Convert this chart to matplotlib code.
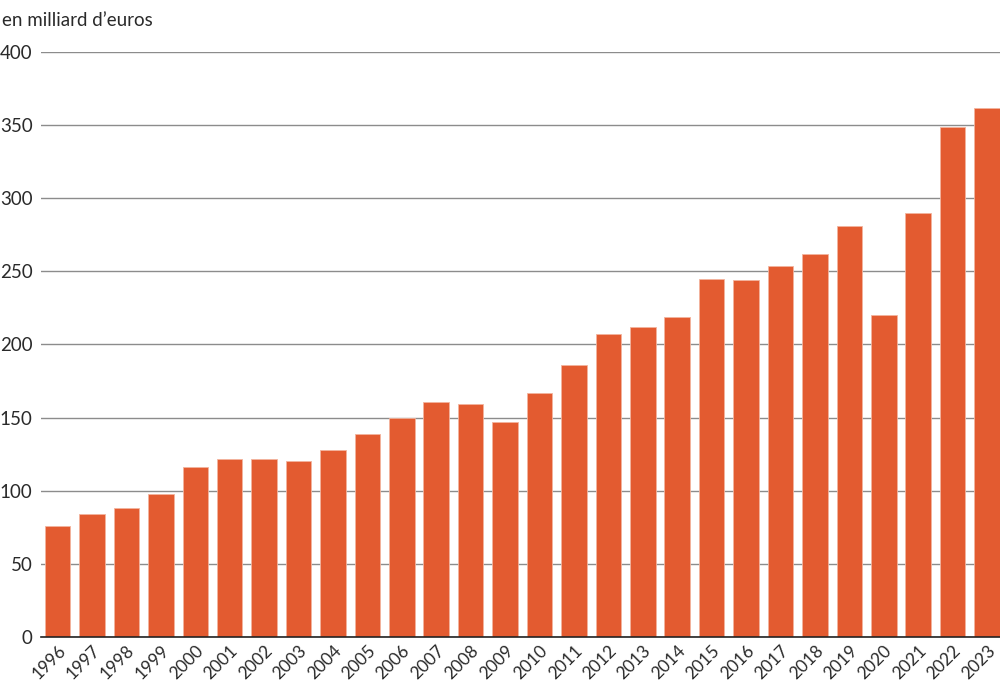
import matplotlib.pyplot as plt

# data (billions of euros)
years = [str(y) for y in range(1996, 2024)]
values = [76, 84, 88, 98, 116, 122, 122, 120, 128, 139, 150, 161, 159, 147,
          167, 186, 207, 212, 219, 245, 244, 254, 262, 281, 220, 290, 349, 362]
yticks = [0, 50, 100, 150, 200, 250, 300, 350, 400]

plt.rcParams['font.family'] = ['Lato', 'DejaVu Sans']

fig = plt.figure(figsize=(10, 6.85), dpi=100)
ax = fig.add_axes([0.041, 0.0701, 0.959, 0.854])

x = range(len(years))
ax.bar(x, values, width=0.74, color='#e35b30', edgecolor='#f3b49d',
       linewidth=0.6, zorder=3)

ax.set_ylim(0, 400)
ax.set_xlim(-0.48, len(years) - 0.625)
ax.set_yticks(yticks)
ax.set_yticklabels([str(t) for t in yticks], fontsize=13.5, color='#2a2a2a')
ax.yaxis.grid(True, color='#8c8c8c', linewidth=1.0, zorder=0)
ax.set_axisbelow(True)

ax.set_xticks(list(x))
ax.set_xticklabels(years, rotation=45, ha='right', rotation_mode='anchor',
                   fontsize=12.5, color='#2a2a2a')
ax.tick_params(axis='both', length=0)
ax.tick_params(axis='y', pad=6)
ax.tick_params(axis='x', pad=4)

for s in ['top', 'right', 'left']:
    ax.spines[s].set_visible(False)
ax.spines['bottom'].set_color('#222222')
ax.spines['bottom'].set_linewidth(1.2)
ax.spines['bottom'].set_zorder(4)

fig.text(0.002, 0.962, "en milliard d\u2019euros", fontsize=13.5, color='#2a2a2a',
         ha='left', va='baseline')

fig.savefig('out.png', dpi=100)
